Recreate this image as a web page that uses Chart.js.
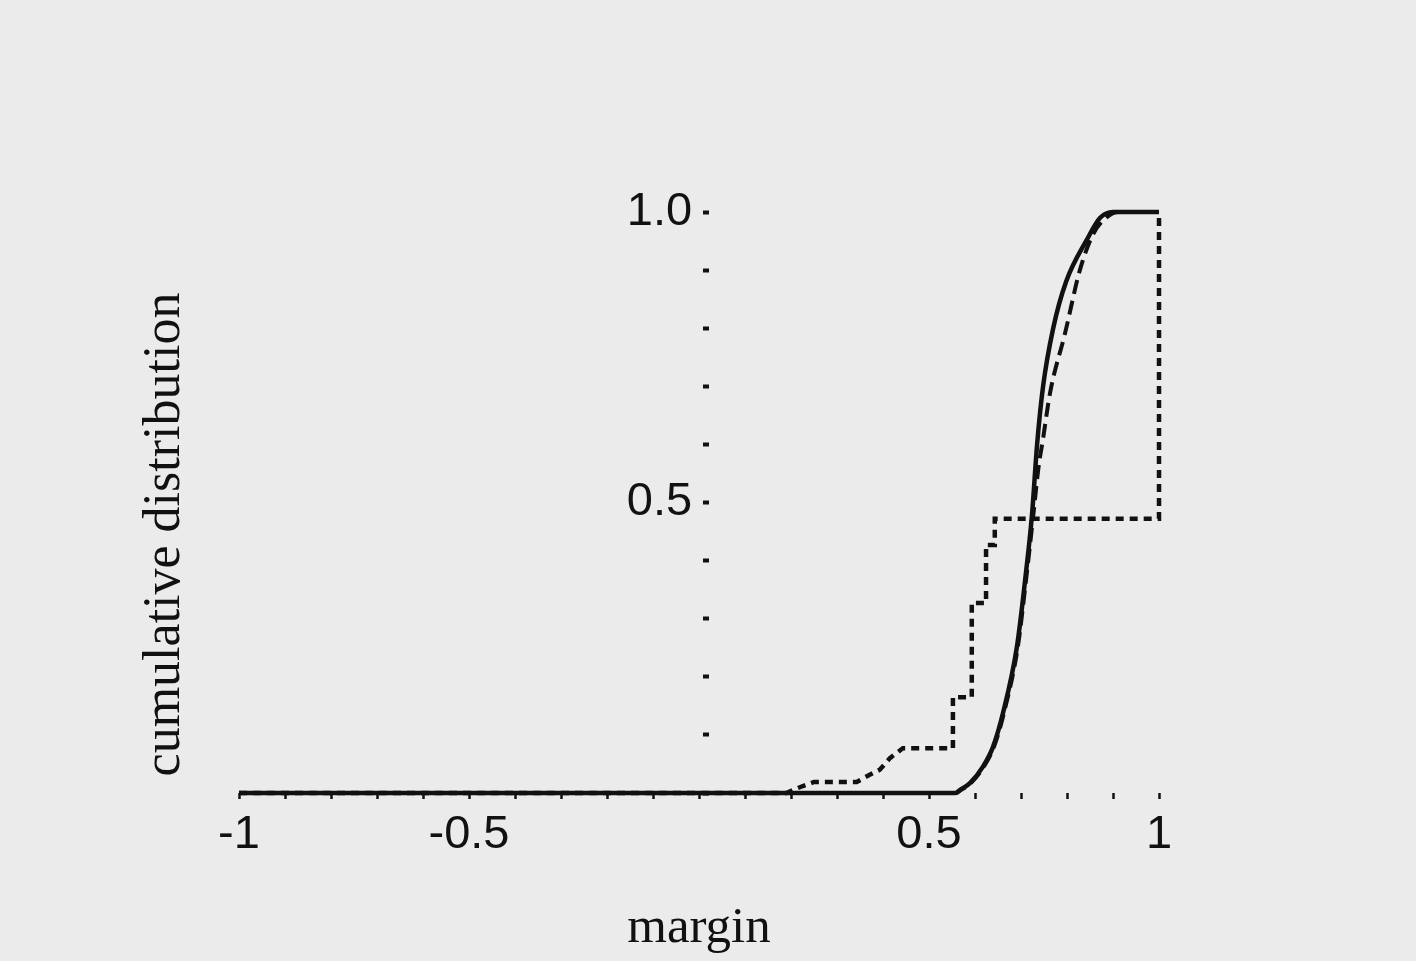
<!DOCTYPE html>
<html>
<head>
<meta charset="utf-8">
<title>cumulative distribution of margins</title>
<script src="https://cdn.jsdelivr.net/npm/chart.js@4/dist/chart.umd.min.js"></script>
<style>
html, body { margin: 0; padding: 0; background: #ebebeb; }
#wrap { width: 1416px; height: 961px; }
</style>
</head>
<body>
<div id="wrap"><canvas id="cdf" width="1416" height="961"></canvas></div>
<script>
// margin values (x) and cumulative fraction (y) for each curve
let solidX = [-1, 0.557, 0.567, 0.589, 0.617, 0.639, 0.661, 0.691, 0.709, 0.724, 0.735, 0.748, 0.77, 0.798, 0.843, 0.872, 0.9, 1];
let solidY = [0, 0, 0.005, 0.017, 0.045, 0.079, 0.138, 0.251, 0.367, 0.48, 0.6, 0.7, 0.8, 0.88, 0.952, 0.99, 1, 1];

let dashedX = [-1, 0.559, 0.569, 0.591, 0.619, 0.641, 0.663, 0.693, 0.711, 0.727, 0.738, 0.748, 0.763, 0.796, 0.828, 0.857, 0.885, 0.912, 1];
let dashedY = [0, 0, 0.005, 0.017, 0.045, 0.079, 0.138, 0.251, 0.367, 0.48, 0.56, 0.61, 0.688, 0.792, 0.9, 0.962, 0.99, 1, 1];

let dottedX = [-1, 0.19, 0.204, 0.226, 0.25, 0.343, 0.37, 0.393, 0.415, 0.443, 0.552, 0.552, 0.593, 0.593, 0.624, 0.624, 0.643, 0.643, 1, 1];
let dottedY = [0, 0, 0.005, 0.012, 0.019, 0.019, 0.031, 0.04, 0.06, 0.077, 0.077, 0.165, 0.165, 0.327, 0.327, 0.427, 0.427, 0.472, 0.472, 1];

// only some ticks carry a label
let xTickValues = [-1, -0.5, 0.5, 1];
let xTickText = ["-1", "-0.5", "0.5", "1"];
let yTickValues = [0.5, 1];
let yTickText = ["0.5", "1.0"];

let ink = "#111111";
let tickFont = { family: "Liberation Sans", size: 47 };

function pts(xs, ys){
    return xs.map(function(x, i){ return {x: x, y: ys[i]}; });
}

function pickLabel(values, texts, v){
    for(let i=0; i<values.length; i++){
        if(Math.abs(values[i]-v) < 1e-6){
            return texts[i];
        }
    }
    return "";
}

// rotated title on the left, below the middle of the plot
let yTitle = {
    id: "yTitle",
    afterDraw(chart){
        let ctx = chart.ctx;
        let area = chart.chartArea;
        ctx.save();
        ctx.translate(area.left - 60, (area.top + area.bottom)/2 + 32);
        ctx.rotate(-Math.PI/2);
        ctx.font = '52px "Liberation Serif"';
        ctx.fillStyle = ink;
        ctx.textAlign = "center";
        ctx.textBaseline = "alphabetic";
        ctx.fillText("cumulative distribution", 0, 0);
        ctx.restore();
    }
};

new Chart(document.getElementById("cdf"), {
    type: "line",
    data: {
        datasets: [{
            data: pts(solidX, solidY),
            borderColor: ink,
            borderWidth: 4.5,
            cubicInterpolationMode: "monotone",
            order: 0
        }, {
            data: pts(dashedX, dashedY),
            borderColor: ink,
            borderWidth: 4,
            borderDash: [14, 7],
            cubicInterpolationMode: "monotone",
            order: 1
        }, {
            data: pts(dottedX, dottedY),
            borderColor: ink,
            borderWidth: 4.5,
            borderDash: [8, 6],
            tension: 0,
            order: 2
        }]
    },
    options: {
        responsive: false,
        animation: false,
        devicePixelRatio: 1,
        clip: false,
        elements: { point: { radius: 0 } },
        layout: { padding: { left: 239, right: 257, top: 212, bottom: 0 } },
        plugins: {
            legend: { display: false },
            tooltip: { enabled: false }
        },
        scales: {
            x: {
                type: "linear",
                min: -1,
                max: 1,
                border: { display: false },
                grid: {
                    drawOnChartArea: false,
                    drawTicks: true,
                    tickLength: 6,
                    tickWidth: 2.5,
                    tickColor: ink
                },
                ticks: {
                    stepSize: 0.1,
                    autoSkip: false,
                    maxRotation: 0,
                    padding: 8,
                    color: ink,
                    font: tickFont,
                    callback: function(v){ return pickLabel(xTickValues, xTickText, v); }
                },
                title: {
                    display: true,
                    text: "margin",
                    color: ink,
                    font: { family: "Liberation Serif", size: 51 },
                    padding: { top: 0, bottom: 2 }
                },
                afterFit: function(s){ s.height = 168; }
            },
            // tick marks, just right of zero
            y: {
                type: "linear",
                min: 0,
                max: 1,
                position: { x: 0.022 },
                border: { display: false },
                grid: {
                    drawOnChartArea: false,
                    drawTicks: true,
                    tickLength: 6,
                    tickWidth: 4,
                    tickColor: ink
                },
                ticks: {
                    stepSize: 0.1,
                    autoSkip: false,
                    callback: function(){ return ""; }
                }
            },
            // labels only, just left of zero
            yLabels: {
                type: "linear",
                min: 0,
                max: 1,
                position: { x: -0.015 },
                border: { display: false },
                grid: { display: false },
                ticks: {
                    stepSize: 0.5,
                    autoSkip: false,
                    color: ink,
                    font: tickFont,
                    callback: function(v){ return pickLabel(yTickValues, yTickText, v); }
                }
            }
        }
    },
    plugins: [yTitle]
});
</script>
</body>
</html>
